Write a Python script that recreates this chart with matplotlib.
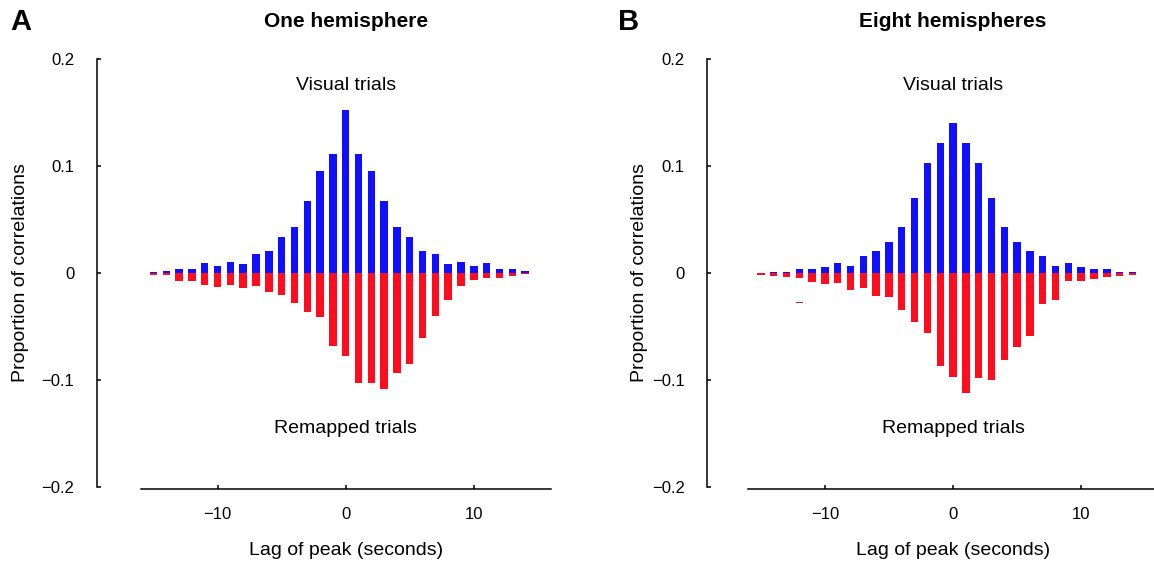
import numpy as np
import matplotlib
matplotlib.use("Agg")
from matplotlib import pyplot as plt

plt.rcParams['font.family'] = ['Liberation Sans', 'DejaVu Sans']

# lag of correlation peak, one bin per second
lags = np.arange(-15, 15)

# panel A: one hemisphere
one_visual = [0.001, 0.002, 0.004, 0.004, 0.009, 0.007, 0.010, 0.008, 0.018, 0.021,
              0.034, 0.043, 0.067, 0.095, 0.1115, 0.152, 0.1115, 0.095, 0.067, 0.043,
              0.034, 0.021, 0.018, 0.008, 0.010, 0.007, 0.009, 0.004, 0.004, 0.002]
one_remapped = [0.0016, 0.002, 0.0075, 0.0072, 0.0112, 0.0134, 0.0112, 0.0137, 0.0121, 0.0178,
                0.0202, 0.028, 0.0367, 0.0414, 0.0685, 0.0779, 0.103, 0.1028, 0.1087, 0.0938,
                0.085, 0.061, 0.040, 0.025, 0.012, 0.0069, 0.0044, 0.005, 0.0028, 0.001]

# panel B: eight hemispheres
eight_visual = [0.0, 0.0007, 0.001, 0.0034, 0.004, 0.0053, 0.0093, 0.0065, 0.0159, 0.0202,
                0.029, 0.043, 0.0698, 0.1028, 0.1215, 0.140, 0.1215, 0.1028, 0.0698, 0.043,
                0.029, 0.0202, 0.0159, 0.0065, 0.0093, 0.0053, 0.004, 0.0034, 0.001, 0.0007]
eight_remapped = [0.0016, 0.0025, 0.004, 0.0047, 0.0084, 0.0103, 0.0097, 0.0159, 0.014, 0.0215,
                  0.0221, 0.0346, 0.0458, 0.0558, 0.0866, 0.0972, 0.112, 0.0978, 0.100, 0.0813,
                  0.069, 0.0586, 0.0287, 0.0255, 0.0078, 0.0072, 0.0053, 0.0034, 0.0025, 0.0016]
# stray marker left in panel B
eight_stray_lag = [-12]
eight_stray_val = [-0.028]

blue = '#1010ff'
red = '#ff0c1e'

fig = plt.figure(figsize=(11.54, 5.63), dpi=100)
ax1 = fig.add_axes([0.1219, 0.135, 0.3553, 0.7602])
ax2 = fig.add_axes([0.6482, 0.135, 0.3553, 0.7602])

panels = [
    (ax1, one_visual, one_remapped, 'One hemisphere', 'A', 31.7, -0.272),
    (ax2, eight_visual, eight_remapped, 'Eight hemispheres', 'B', 29.5, -0.244),
]

for ax, vis, rem, title, letter, offset, ylab_x in panels:
    ax.bar(lags, vis, width=0.58, color=blue, linewidth=0)
    ax.bar(lags, -np.array(rem), width=0.58, color=red, linewidth=0)

    ax.set_xlim(-16, 16)
    ax.set_ylim(-0.2, 0.2)
    ax.set_yticks([-0.2, -0.1, 0, 0.1, 0.2])
    ax.set_yticklabels(['\u22120.2', '\u22120.1', '0', '0.1', '0.2'])
    ax.set_xticks([-10, 0, 10])
    ax.set_xticklabels(['\u221210', '0', '10'])

    for s in ['top', 'right']:
        ax.spines[s].set_visible(False)
    ax.spines['left'].set_position(('outward', offset))
    ax.spines['bottom'].set_position(('outward', 1.5))
    ax.spines['left'].set_linewidth(1.1)
    ax.spines['bottom'].set_linewidth(1.1)
    ax.tick_params(axis='y', direction='in', length=3, width=1.1, pad=16, labelsize=12)
    ax.tick_params(axis='x', direction='in', length=3, width=1.1, pad=13, labelsize=12)

    ax.set_xlabel('Lag of peak (seconds)', fontsize=14, labelpad=14)
    ax.set_ylabel('Proportion of correlations', fontsize=14)
    ax.yaxis.set_label_coords(ylab_x, 0.5)
    ax.set_title(title, fontsize=15, fontweight='bold', pad=23)

    ax.text(0, 0.175, 'Visual trials', fontsize=14, ha='center', va='center')
    ax.text(0, -0.145, 'Remapped trials', fontsize=14, ha='center', va='center')

    lx = 10 / 1154 if letter == 'A' else 618 / 1154
    fig.text(lx, 1 - 22 / 563, letter, fontsize=21, fontweight='bold', va='center', ha='left')

ax2.bar(eight_stray_lag, 0.0012, bottom=eight_stray_val, width=0.58, color='#c0106e', linewidth=0)

fig.savefig('out.png', dpi=100)
